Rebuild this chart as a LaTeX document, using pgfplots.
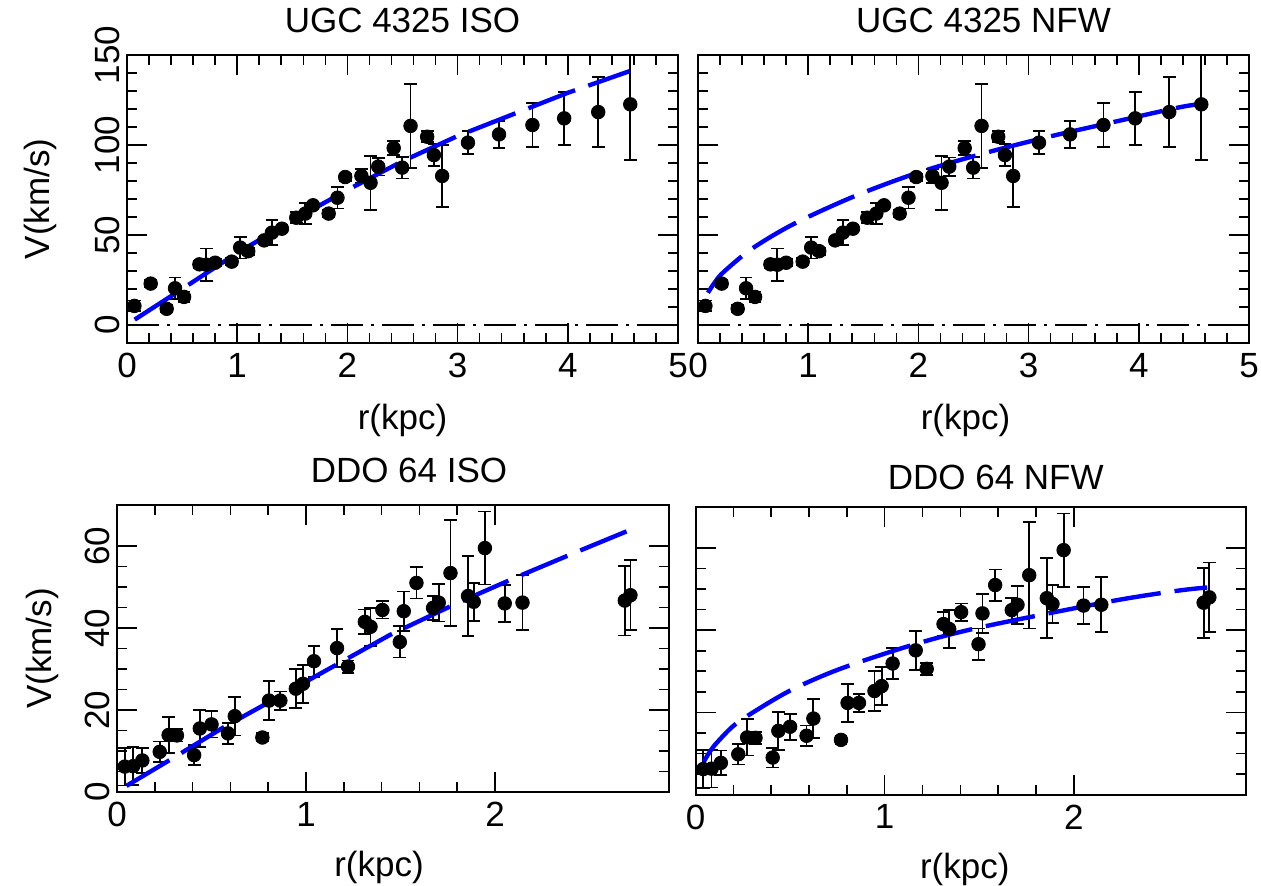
\documentclass[border=0pt]{standalone}
\usepackage{fontspec}
\setmainfont{Liberation Sans}
\usepackage{pgfplots}
\pgfplotsset{compat=1.18}
\usepackage{pgfplotstable}

\definecolor{fitblue}{RGB}{0,0,255}

\pgfplotstableread{
r V e
0.067 10.6 3
0.215 23.0 2
0.360 9.0 2
0.436 20.4 6
0.518 15.6 3
0.657 33.7 2
0.720 33.5 9
0.800 34.6 2
0.950 35.2 2
1.027 43.0 6
1.100 41.0 2
1.245 47.0 2
1.315 51.3 7
1.406 53.5 2
1.536 59.6 3
1.618 61.9 6
1.688 66.5 2
1.830 61.9 2
1.910 70.7 6
1.980 82.2 2
2.127 82.8 4
2.210 79.0 15
2.280 88.0 5
2.420 98.3 4
2.497 87.4 6
2.573 110.6 23.5
2.724 104.6 3
2.785 94.4 6
2.860 82.8 17.4
3.094 101.3 6.3
3.376 105.9 7.6
3.679 111.1 12.3
3.967 114.8 14.8
4.276 118.3 19.5
4.567 122.6 31
}\ugcdata

\pgfplotstableread{
r V e
0.041 6.2 4.6
0.085 6.3 4.6
0.134 7.7 3
0.226 9.8 2.5
0.273 13.9 4.4
0.317 13.8 1.5
0.408 9.0 2.4
0.438 15.5 4.6
0.500 16.5 3.2
0.587 14.3 2.5
0.623 18.5 4.7
0.769 13.3 1
0.804 22.3 4.7
0.864 22.3 2.2
0.946 25.2 4.8
0.984 26.4 4.6
1.042 31.9 3.8
1.164 35.1 4.7
1.222 30.6 1.5
1.311 41.5 3
1.341 40.3 4.6
1.404 44.4 2.1
1.496 36.6 3.8
1.517 44.1 4.8
1.584 51.0 3.8
1.672 44.9 3
1.702 46.2 4.6
1.764 53.4 13
1.857 47.8 9.7
1.887 46.4 4.6
1.946 59.5 8.9
2.051 46.0 4.5
2.145 46.2 6.7
2.686 46.7 8.5
2.716 48.0 8.5
}\ddodata

\pgfplotsset{
  panel/.style={
    scale only axis,
    anchor=south west,
    axis line style={line width=1pt},
    tick style={line width=0.8pt, black},
    major tick length=10pt,
    minor tick length=5pt,
    tick align=inside,
    xtick pos=both, ytick pos=both,
    /pgf/number format/assume math mode=true,
    tick label style={font=\fontsize{17.5}{20}\selectfont},
    label style={font=\fontsize{17.5}{20}\selectfont},
    title style={font=\fontsize{17.5}{20}\selectfont, at={(axis description cs:0.5,1)}, anchor=base},
    yticklabel style={rotate=90, anchor=south},
    xticklabel style={yshift=-1.5pt},
    xlabel style={at={(axis description cs:0.5,0)}, anchor=center},
    ylabel style={at={(axis description cs:0,0.5)}, anchor=center},
  },
  datapts/.style={only marks, mark=*, mark size=3.4pt, black,
    error bars/.cd, y dir=both, y explicit,
    error bar style={line width=0.9pt, black},
    error mark options={black, line width=0.9pt, mark size=3.2pt, rotate=90}},
  fitline/.style={fitblue, line width=2.2pt, dash pattern=on 25pt off 7pt, no marks},
  zeroline/.style={black, line width=0.8pt, dash pattern=on 16pt off 4pt on 1.5pt off 4pt, no marks},
}

\begin{document}
\begin{tikzpicture}
% ---------------- UGC 4325 ISO ----------------
\begin{axis}[panel, at={(63.5pt,271pt)}, width=275.5pt, height=144pt,
  xmin=0, xmax=5, ymin=-10, ymax=150,
  xtick={0,1,2,3,4,5}, ytick={0,50,100,150},
  minor x tick num=4, minor y tick num=4,
  title={UGC 4325 ISO}, title style={yshift=5pt},
  xlabel={r(kpc)}, xlabel style={yshift=-38.5pt},
  ylabel={V(km/s)}, ylabel style={yshift=43.5pt}]
\addplot[zeroline] coordinates {(0,0) (5,0)};
\addplot[datapts] table[x=r, y=V, y error=e] {\ugcdata};
\addplot[fitline] coordinates {(0.07,3) (0.5,20) (1.0,40) (1.5,58) (2.0,75) (2.5,91) (3.0,105) (3.5,117) (4.0,129) (4.56,141)};
\end{axis}
% ---------------- UGC 4325 NFW ----------------
\begin{axis}[panel, at={(349pt,271pt)}, width=275.5pt, height=144pt,
  xmin=0, xmax=5, ymin=-10, ymax=150,
  xtick={0,1,2,3,4,5}, ytick={0,50,100,150}, yticklabels={},
  minor x tick num=4, minor y tick num=4,
  title={UGC 4325 NFW}, title style={yshift=5pt, xshift=5pt},
  xlabel={r(kpc)}, xlabel style={yshift=-38.5pt, xshift=-4pt}]
\addplot[zeroline] coordinates {(0,0) (5,0)};
\addplot[datapts] table[x=r, y=V, y error=e] {\ugcdata};
\addplot[fitline, smooth] coordinates {(0.09,17.9) (0.15,23.5) (0.23,29.3) (0.485,42.2) (0.864,56) (1.41,71.3) (1.97,84.1) (2.56,94.8) (3.15,104.1) (3.745,112.4) (4.35,120.7) (4.56,122.8)};
\end{axis}
% ---------------- DDO 64 ISO ----------------
\begin{axis}[panel, at={(58.5pt,46.5pt)}, width=276pt, height=143.5pt,
  xmin=0, xmax=2.92, ymin=0, ymax=70,
  xtick={0,1,2}, ytick={0,20,40,60},
  minor x tick num=4, minor y tick num=3,
  title={DDO 64 ISO}, title style={yshift=5.5pt, xshift=8pt},
  xlabel={r(kpc)}, xlabel style={yshift=-37.5pt, xshift=-7pt},
  ylabel={V(km/s)}, ylabel style={yshift=37.5pt}]
\addplot[datapts] table[x=r, y=V, y error=e] {\ddodata};
\addplot[fitline] coordinates {(0.05,1.5) (0.279,7.8) (0.561,15.7) (0.87,23.6) (1.443,38.3) (1.787,45.8) (2.113,52.4) (2.439,58.7) (2.713,63.9)};
\end{axis}
% ---------------- DDO 64 NFW ----------------
\begin{axis}[panel, at={(347.75pt,45.25pt)}, width=275.25pt, height=143.75pt,
  xmin=0, xmax=2.91, ymin=0, ymax=70,
  xtick={0,1,2}, ytick={0,20,40,60}, yticklabels={},
  minor x tick num=4, minor y tick num=3,
  title={DDO 64 NFW}, title style={yshift=3pt, xshift=12.5pt},
  xlabel={r(kpc)}, xlabel style={yshift=-37.5pt, xshift=-3pt}]
\addplot[datapts] table[x=r, y=V, y error=e] {\ddodata};
\addplot[fitline, smooth] coordinates {(0.044,8) (0.094,11.6) (0.19,16.3) (0.28,19.3) (0.5,25.3) (0.765,30.6) (1.153,36.5) (1.505,40.7) (2.19,47) (2.545,49.6) (2.705,50.4)};
\end{axis}
\pgfresetboundingbox
\useasboundingbox (0,0) rectangle (630.5pt,442.5pt);
\end{tikzpicture}
\end{document}
